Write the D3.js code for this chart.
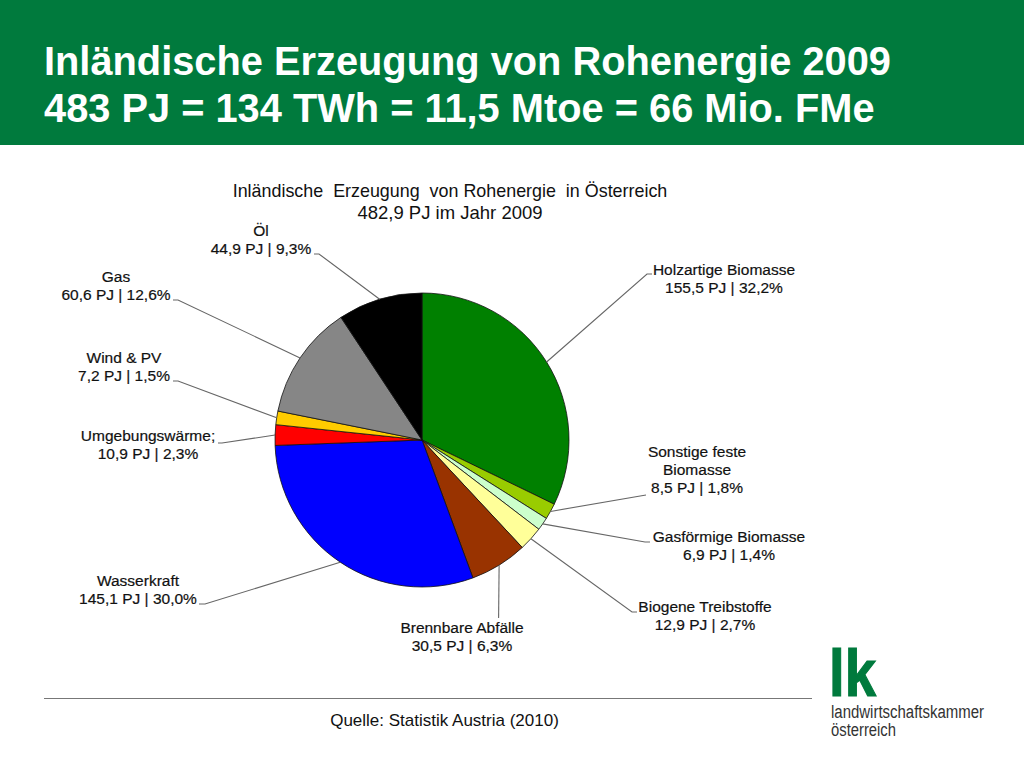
<!DOCTYPE html>
<html><head><meta charset="utf-8">
<script src="https://cdn.jsdelivr.net/npm/d3@7"></script>
<style>html,body{margin:0;padding:0;background:#fff}svg{display:block}text{font-family:"Liberation Sans",Arial,sans-serif}</style>
</head><body><svg id="c" width="1024" height="768"></svg>
<script>
const categories=["Holzartige Biomasse","Sonstige feste|Biomasse","Gasförmige Biomasse","Biogene Treibstoffe","Brennbare Abfälle","Wasserkraft","Umgebungswärme;","Wind & PV","Gas","Öl"];
const valuesPJ=[155.5,8.5,6.9,12.9,30.5,145.1,10.9,7.2,60.6,44.9];
const percents=["32,2","1,8","1,4","2,7","6,3","30,0","2,3","1,5","12,6","9,3"];
const colors=["#008000","#99cc00","#ccffcc","#ffff99","#993300","#0000ff","#ff0000","#ffcc00","#868686","#000000"];
const titleLines=["Inländische Erzeugung von Rohenergie 2009","483 PJ = 134 TWh = 11,5 Mtoe = 66 Mio. FMe"];
const chartTitle=["Inländische  Erzeugung  von Rohenergie  in Österreich","482,9 PJ im Jahr 2009"];
const source="Quelle: Statistik Austria (2010)";
// label layout: text centre x, first baseline y, leader waypoints
const labelLayout=[
 {x:724,y:275,pts:[[647,274],[652,274]]},
 {x:697,y:457,pts:[[646,495]]},
 {x:729,y:542,pts:[[645,542],[650,542]]},
 {x:705,y:612,pts:[[632,612],[637,612]]},
 {x:462,y:633,pts:[[498.6,618]]},
 {x:138,y:586,pts:[[205,604],[199,604]]},
 {x:148,y:441,pts:[[222,443],[218,443]]},
 {x:124,y:363,pts:[[178,381],[173,381]]},
 {x:116,y:282,pts:[[178,300],[173,300]]},
 {x:261,y:236,pts:[[319,254],[314,254]]}
];
const fs=d3.format(".1f");
const svg=d3.select("#c");
svg.append("rect").attr("width",1024).attr("height",145).attr("fill","#007a3d");
svg.selectAll("text.t").data(titleLines).join("text").attr("class","t")
 .attr("x",44).attr("y",(d,i)=>75+i*47).attr("fill","#fff").attr("font-weight","bold").attr("font-size",39.8).text(d=>d);
svg.selectAll("text.ct").data(chartTitle).join("text").attr("class","ct").style("white-space","pre")
 .attr("x",450).attr("y",(d,i)=>197+i*22).attr("text-anchor","middle").attr("font-size",(d,i)=>i?18.5:17.9).attr("fill","#111").text(d=>d);

const cx=422,cy=440,R=147;
const pie=d3.pie().sort(null).value(d=>d)(valuesPJ);
const arc=d3.arc().innerRadius(0).outerRadius(R);
const g=svg.append("g").attr("transform",`translate(${cx},${cy})`);
g.selectAll("path").data(pie).join("path").attr("d",arc)
 .attr("fill",(d,i)=>colors[i]).attr("stroke","#111").attr("stroke-width",.8);
const line=d3.line();
svg.append("g").selectAll("path").data(pie).join("path")
 .attr("fill","none").attr("stroke","#666").attr("stroke-width",1.1)
 .attr("d",(d,i)=>{
   const a=(d.startAngle+d.endAngle)/2;
   return line([[cx+R*Math.sin(a),cy-R*Math.cos(a)],...labelLayout[i].pts]);
 });
const lab=svg.append("g").attr("font-size",15.5).attr("fill","#111").attr("text-anchor","middle")
 .attr("stroke","#111").attr("stroke-width",.2);
categories.forEach((c,i)=>{
  const lines=[...c.split("|"),`${fs(valuesPJ[i]).replace(".",",")} PJ | ${percents[i]}%`];
  lab.selectAll(null).data(lines).join("text")
   .attr("x",labelLayout[i].x).attr("y",(d,j)=>labelLayout[i].y+j*18).text(d=>d);
});
svg.append("line").attr("x1",44).attr("x2",812).attr("y1",698.5).attr("y2",698.5).attr("stroke","#777").attr("stroke-width",1);
svg.append("text").attr("x",444.5).attr("y",726).attr("text-anchor","middle").attr("font-size",17).attr("fill","#111").text(source);
// logo
svg.append("text").attr("x",829).attr("y",696).attr("font-size",66).attr("font-weight","bold").attr("fill","#007a3d").attr("stroke","#007a3d").attr("stroke-width",1.2).attr("textLength",47).attr("lengthAdjust","spacingAndGlyphs").text("lk");
svg.append("text").attr("x",831).attr("y",718).attr("font-size",18).attr("fill","#333").attr("textLength",153).attr("lengthAdjust","spacingAndGlyphs").text("landwirtschaftskammer");
svg.append("text").attr("x",831).attr("y",736).attr("font-size",18).attr("fill","#333").attr("textLength",65).attr("lengthAdjust","spacingAndGlyphs").text("österreich");
</script></body></html>
